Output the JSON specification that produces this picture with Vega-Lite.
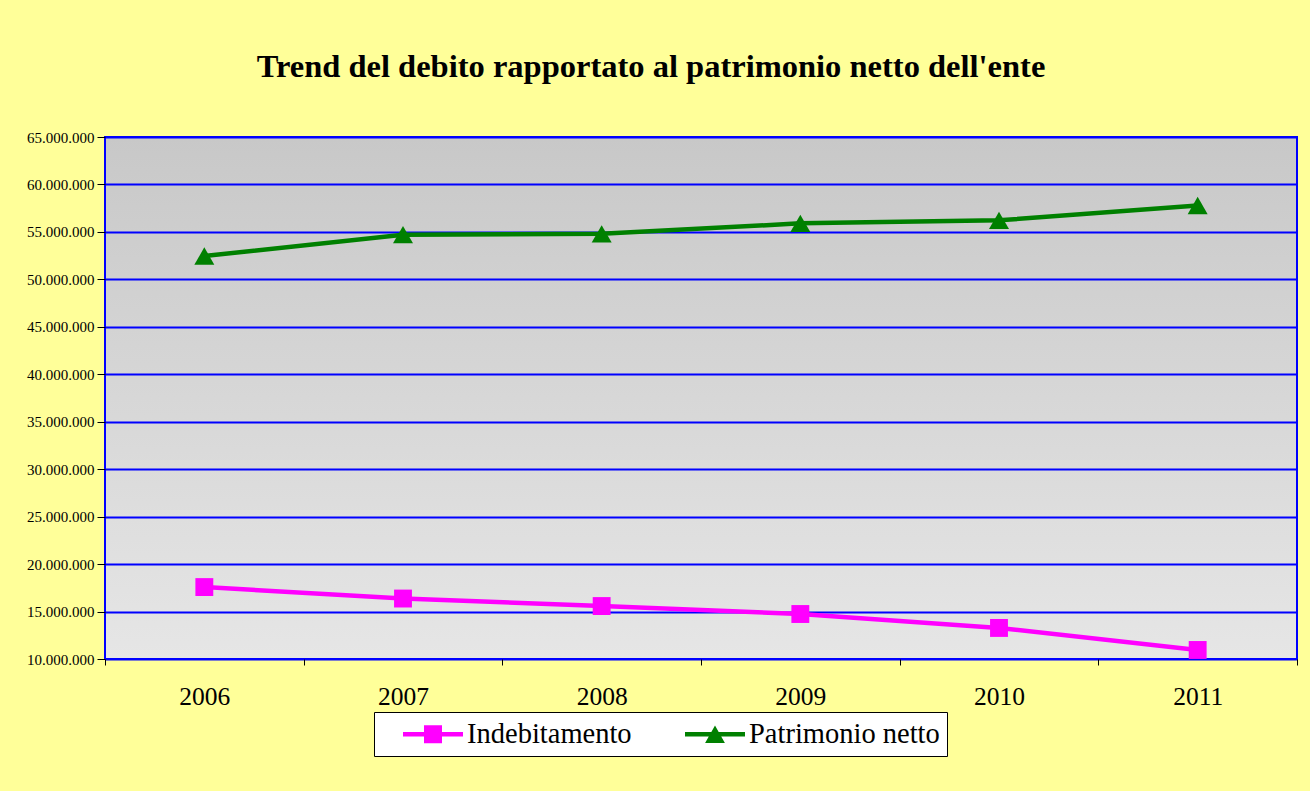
{
  "$schema": "https://vega.github.io/schema/vega-lite/v6.json",
  "width": 1192,
  "height": 522,
  "autosize": {"type": "none"},
  "padding": {"left": 105, "top": 137, "right": 13, "bottom": 132},
  "background": "#FFFF99",
  "title": {
    "text": "Trend del debito rapportato al patrimonio netto dell'ente",
    "font": "Liberation Serif",
    "fontSize": 32.5,
    "fontWeight": "bold",
    "color": "black",
    "anchor": "middle",
    "dx": -50,
    "offset": 47
  },
  "data": {
    "values": [
      {"anno": "2006", "serie": "Indebitamento", "valore": 17580000},
      {"anno": "2007", "serie": "Indebitamento", "valore": 16370000},
      {"anno": "2008", "serie": "Indebitamento", "valore": 15580000},
      {"anno": "2009", "serie": "Indebitamento", "valore": 14740000},
      {"anno": "2010", "serie": "Indebitamento", "valore": 13270000},
      {"anno": "2011", "serie": "Indebitamento", "valore": 10950000},
      {"anno": "2006", "serie": "Patrimonio netto", "valore": 52460000},
      {"anno": "2007", "serie": "Patrimonio netto", "valore": 54710000},
      {"anno": "2008", "serie": "Patrimonio netto", "valore": 54800000},
      {"anno": "2009", "serie": "Patrimonio netto", "valore": 55900000},
      {"anno": "2010", "serie": "Patrimonio netto", "valore": 56220000},
      {"anno": "2011", "serie": "Patrimonio netto", "valore": 57780000}
    ]
  },
  "encoding": {
    "x": {
      "field": "anno",
      "type": "ordinal",
      "scale": {"type": "band", "paddingInner": 0, "paddingOuter": 0},
      "axis": {
        "title": null,
        "labelAngle": 0,
        "labelFont": "Liberation Serif",
        "labelFontSize": 25.5,
        "labelColor": "black",
        "labelPadding": 19,
        "tickBand": "extent",
        "tickSize": 6,
        "tickColor": "black",
        "tickWidth": 1,
        "domain": false,
        "grid": false
      }
    },
    "y": {
      "field": "valore",
      "type": "quantitative",
      "scale": {"domain": [10000000, 65000000], "nice": false, "zero": false},
      "axis": {
        "title": null,
        "values": [10000000, 15000000, 20000000, 25000000, 30000000, 35000000, 40000000, 45000000, 50000000, 55000000, 60000000, 65000000],
        "format": ",.0f",
        "labelFont": "Liberation Serif",
        "labelFontSize": 15,
        "labelColor": "black",
        "labelPadding": 3,
        "tickSize": 8,
        "tickColor": "black",
        "tickWidth": 1,
        "domain": false,
        "grid": true,
        "gridColor": "#0000FF",
        "gridWidth": 2,
        "gridOpacity": 1
      }
    }
  },
  "layer": [
    {
      "mark": {"type": "line", "strokeWidth": 4.5},
      "encoding": {
        "color": {
          "field": "serie",
          "type": "nominal",
          "scale": {"domain": ["Indebitamento", "Patrimonio netto"], "range": ["#FF00FF", "#008000"]},
          "legend": {
            "orient": "none",
            "legendX": 269,
            "legendY": 575,
            "direction": "horizontal",
            "title": null,
            "fillColor": "white",
            "strokeColor": "black",
            "padding": 7,
            "symbolSize": 900,
            "symbolOffset": 37,
            "symbolStrokeWidth": 0,
            "labelFont": "Liberation Serif",
            "labelFontSize": 28.5,
            "labelColor": "black",
            "labelOffset": 19,
            "labelLimit": 400,
            "columnPadding": 31,
            "encode": {
              "symbols": {
                "update": {
                  "shape": {"signal": "datum.value === 'Indebitamento' ? 'M-2,-0.15H2V0.15H-2Z M-0.6,-0.6H0.6V0.6H-0.6Z' : 'M-2,-0.15H2V0.15H-2Z M0,-0.58L0.66,0.58H-0.66Z'"},
                  "fill": {"signal": "datum.value === 'Indebitamento' ? '#FF00FF' : '#008000'"},
                  "fillOpacity": {"value": 1},
                  "strokeWidth": {"value": 0}
                }
              }
            }
          }
        }
      }
    },
    {
      "transform": [{"filter": "datum.serie === 'Indebitamento'"}],
      "mark": {"type": "point", "shape": "square", "filled": true, "opacity": 1, "size": 320, "color": "#FF00FF"}
    },
    {
      "transform": [{"filter": "datum.serie === 'Patrimonio netto'"}],
      "mark": {"type": "point", "shape": "triangle-up", "filled": true, "opacity": 1, "size": 400, "color": "#008000"}
    }
  ],
  "config": {
    "locale": {
      "number": {"decimal": ",", "thousands": ".", "grouping": [3], "currency": ["€", ""]}
    },
    "view": {
      "stroke": "#0000FF",
      "strokeWidth": 2,
      "fill": {
        "gradient": "linear",
        "x1": 0, "y1": 0, "x2": 0, "y2": 1,
        "stops": [{"offset": 0, "color": "#C8C8C8"}, {"offset": 1, "color": "#E6E6E6"}]
      }
    }
  }
}
